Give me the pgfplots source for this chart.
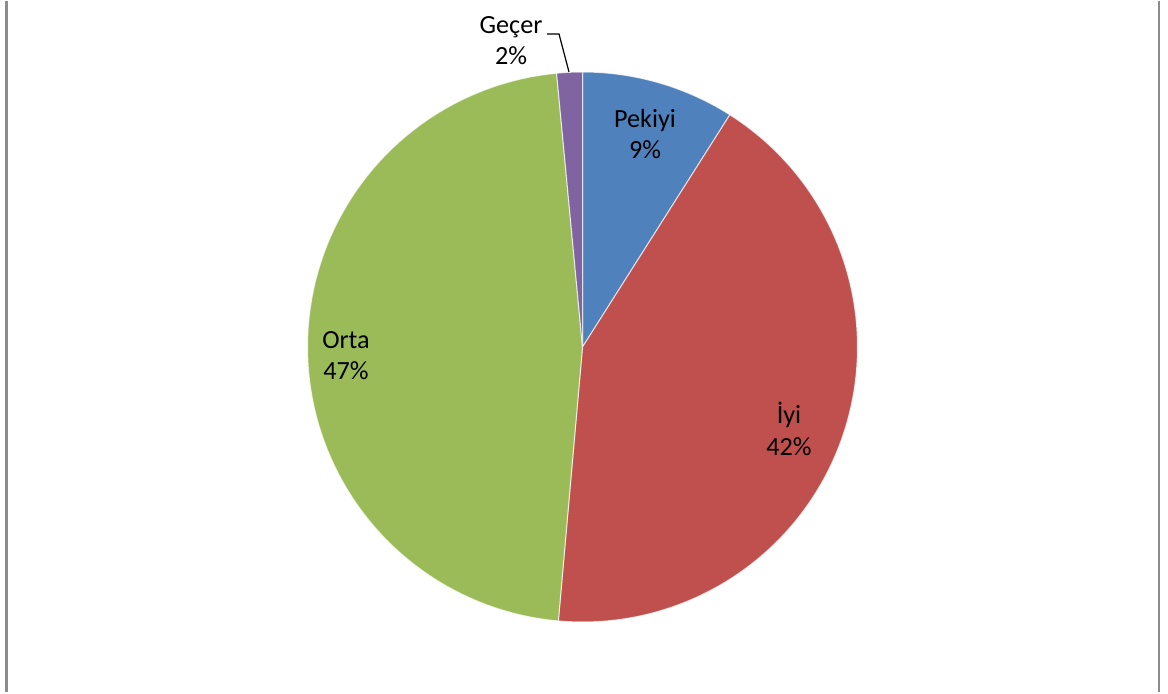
\documentclass[border=0pt]{standalone}
\usepackage{pgfplots}
\pgfplotsset{compat=1.18}
\usepackage{fontspec}
\setmainfont{Carlito}

\definecolor{pblue}{HTML}{4F81BD}
\definecolor{pred}{HTML}{C0504D}
\definecolor{pgreen}{HTML}{9BBB59}
\definecolor{ppurple}{HTML}{8064A2}
\definecolor{frame}{HTML}{8C8C8C}

% pie centre and radius, in pixel units of the reference
\def\cx{582.5}
\def\cy{345}
\def\rr{275}

% one slice: start %, end % (cumulative), colour
\newcommand{\slice}[3]{%
  \addplot[fill=#3, draw=white, line width=0.5pt, draw opacity=0.7,
    domain=3.6*#1:3.6*#2, samples=90, variable=\t]
    ({\cx+\rr*sin(\t)}, {\cy+\rr*cos(\t)}) -- (axis cs:\cx,\cy) -- cycle;}

\begin{document}
\begin{tikzpicture}
\begin{axis}[
  scale only axis,
  width=584pt, height=345.5pt,
  xmin=0, xmax=1168, ymin=0, ymax=691,
  hide axis,
  clip=false,
]
\addplot[draw=none, forget plot] coordinates {(0,0) (1168,691)};
% chart frame (left and right edges)
\addplot[frame, line width=1pt] coordinates {(6.5,0) (6.5,691)};
\addplot[frame, line width=1pt] coordinates {(1159,0) (1159,691)};

% Pekiyi 9.0, Iyi 42.4, Orta 47.1, Gecer 1.5 (cumulative percent)
\slice{0}{9.0}{pblue}
\slice{9.0}{51.4}{pred}
\slice{51.4}{98.5}{pgreen}
\slice{98.5}{100}{ppurple}

% leader line for Geçer
\addplot[black, line width=0.6pt] coordinates {(547,658) (559,658) (569,620)};

\node[align=center, font=\fontsize{13.1}{15.6}\selectfont] at (axis cs:645,558) {Pekiyi\\9\%};
\node[align=center, font=\fontsize{13.1}{15.6}\selectfont] at (axis cs:789,263) {İyi\\42\%};
\node[align=center, font=\fontsize{13.1}{15.6}\selectfont] at (axis cs:346,336.5) {Orta\\47\%};
\node[align=center, font=\fontsize{13.1}{15.6}\selectfont] at (axis cs:511,651) {Geçer\\2\%};
\end{axis}
\end{tikzpicture}
\end{document}
